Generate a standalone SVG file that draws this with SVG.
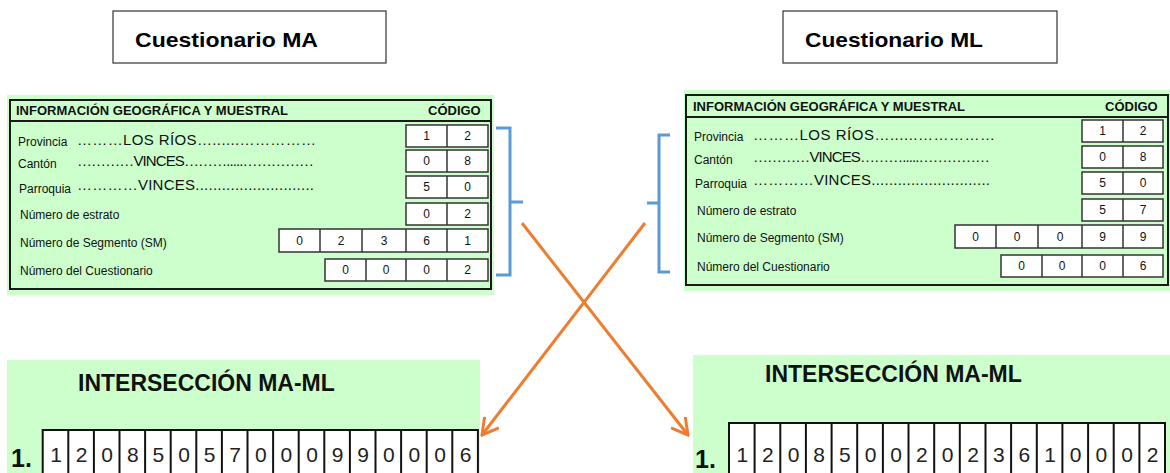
<svg xmlns="http://www.w3.org/2000/svg" width="1170" height="473" viewBox="0 0 1170 473">
<defs>
<style>
.green{fill:#CCFFCC;stroke:none}
.frame{fill:none;stroke:#1a1a1a;stroke-width:2}
.box{fill:#fff;stroke:#333;stroke-width:1.5}
.div{stroke:#333;stroke-width:1.5}
.hdr{font-family:"Liberation Sans",Arial,sans-serif;font-weight:bold;font-size:13px;fill:#111}
.lbl{font-family:"Liberation Sans",Arial,sans-serif;font-size:12px;fill:#111}
.dots{font-family:"Liberation Sans",Arial,sans-serif;font-size:15px;fill:#111}
.dg{font-family:"Liberation Sans",Arial,sans-serif;font-size:12px;fill:#111;text-anchor:middle}
.title{font-family:"Liberation Sans",Arial,sans-serif;font-weight:bold;font-size:21px;fill:#000}
.tbox{fill:#fff;stroke:#333;stroke-width:1.2}
.ititle{font-family:"Liberation Sans",Arial,sans-serif;font-weight:bold;font-size:23px;fill:#111}
.cell{fill:#fff;stroke:#111;stroke-width:2}
.cd{stroke:#111;stroke-width:2}
.bd{font-family:"Liberation Sans",Arial,sans-serif;font-size:21px;fill:#222;text-anchor:middle}
.one{font-family:"Liberation Sans",Arial,sans-serif;font-weight:bold;font-size:25px;fill:#111}
.brace{fill:none;stroke:#5B9BD5;stroke-width:3}
.arrow{fill:none;stroke:#ED7D31;stroke-width:3}
</style>
<marker id="ah" markerUnits="userSpaceOnUse" viewBox="0 0 20 20" refX="18" refY="10" markerWidth="20" markerHeight="20" orient="auto">
<path d="M2,1 L18,10 L2,19" fill="none" stroke="#ED7D31" stroke-width="3"/>
</marker>
</defs>

<g id="title-ma">
<rect class="tbox" x="113" y="11" width="273" height="52"/>
<text class="title" x="135" y="47" textLength="183" lengthAdjust="spacingAndGlyphs">Cuestionario MA</text>
</g>
<g id="title-ml">
<rect class="tbox" x="783" y="11" width="274" height="52"/>
<text class="title" x="805" y="47" textLength="178" lengthAdjust="spacingAndGlyphs">Cuestionario ML</text>
</g>

<g id="form-ma">
<rect class="green" x="7" y="95" width="487" height="200"/>
<rect class="frame" x="10" y="100" width="481" height="189"/>
<line class="frame" x1="10" y1="121" x2="491" y2="121"/>
<text class="hdr" x="16" y="115">INFORMACIÓN GEOGRÁFICA Y MUESTRAL</text>
<text class="hdr" x="428" y="115">CÓDIGO</text>
<text class="lbl" x="18" y="146">Provincia</text>
<text class="dots" x="77" y="145" textLength="239" lengthAdjust="spacing">………LOS RÍOS…......……………</text>
<text class="lbl" x="18" y="168">Cantón</text>
<text class="dots" x="77" y="166" textLength="237" lengthAdjust="spacing">…………VINCES……….....……………</text>
<text class="lbl" x="19" y="193">Parroquia</text>
<text class="dots" x="77" y="190" textLength="237" lengthAdjust="spacing">…………VINCES...........................</text>
<text class="lbl" x="20" y="219">Número de estrato</text>
<text class="lbl" x="20" y="247">Número de Segmento (SM)</text>
<text class="lbl" x="20" y="275">Número del Cuestionario</text>
<rect class="box" x="406" y="125" width="82" height="22"/><line class="div" x1="447" y1="125" x2="447" y2="147"/>
<text class="dg" x="426.5" y="140">1</text><text class="dg" x="467.5" y="140">2</text>
<rect class="box" x="406" y="150" width="82" height="22"/><line class="div" x1="447" y1="150" x2="447" y2="172"/>
<text class="dg" x="426.5" y="165">0</text><text class="dg" x="467.5" y="165">8</text>
<rect class="box" x="406" y="176" width="82" height="22"/><line class="div" x1="447" y1="176" x2="447" y2="198"/>
<text class="dg" x="426.5" y="191">5</text><text class="dg" x="467.5" y="191">0</text>
<rect class="box" x="406" y="203" width="82" height="22"/><line class="div" x1="447" y1="203" x2="447" y2="225"/>
<text class="dg" x="426.5" y="218">0</text><text class="dg" x="467.5" y="218">2</text>
<rect class="box" x="279" y="229" width="209" height="23"/>
<line class="div" x1="320" y1="229" x2="320" y2="252"/><line class="div" x1="362" y1="229" x2="362" y2="252"/><line class="div" x1="406" y1="229" x2="406" y2="252"/><line class="div" x1="447" y1="229" x2="447" y2="252"/>
<text class="dg" x="299.5" y="245">0</text><text class="dg" x="341" y="245">2</text><text class="dg" x="384" y="245">3</text><text class="dg" x="426.5" y="245">6</text><text class="dg" x="467.5" y="245">1</text>
<rect class="box" x="325" y="259" width="163" height="22"/>
<line class="div" x1="366" y1="259" x2="366" y2="281"/><line class="div" x1="406" y1="259" x2="406" y2="281"/><line class="div" x1="447" y1="259" x2="447" y2="281"/>
<text class="dg" x="345.5" y="274">0</text><text class="dg" x="386" y="274">0</text><text class="dg" x="426.5" y="274">0</text><text class="dg" x="467.5" y="274">2</text>
</g>

<g id="form-ml">
<rect class="green" x="684" y="90" width="486" height="201"/>
<rect class="frame" x="686" y="95" width="482" height="190"/>
<line class="frame" x1="686" y1="117" x2="1168" y2="117"/>
<text class="hdr" x="693" y="111">INFORMACIÓN GEOGRÁFICA Y MUESTRAL</text>
<text class="hdr" x="1105" y="111">CÓDIGO</text>
<text class="lbl" x="694" y="141">Provincia</text>
<text class="dots" x="753" y="140" textLength="242" lengthAdjust="spacing">………LOS RÍOS…......……………</text>
<text class="lbl" x="694" y="164">Cantón</text>
<text class="dots" x="753" y="162" textLength="237" lengthAdjust="spacing">…………VINCES……….....……………</text>
<text class="lbl" x="695" y="188">Parroquia</text>
<text class="dots" x="753" y="185" textLength="237" lengthAdjust="spacing">…………VINCES...........................</text>
<text class="lbl" x="697" y="215">Número de estrato</text>
<text class="lbl" x="697" y="242">Número de Segmento (SM)</text>
<text class="lbl" x="697" y="271">Número del Cuestionario</text>
<rect class="box" x="1082" y="120" width="81" height="22"/><line class="div" x1="1123" y1="120" x2="1123" y2="142"/>
<text class="dg" x="1102.5" y="135">1</text><text class="dg" x="1143" y="135">2</text>
<rect class="box" x="1082" y="146" width="81" height="22"/><line class="div" x1="1123" y1="146" x2="1123" y2="168"/>
<text class="dg" x="1102.5" y="161">0</text><text class="dg" x="1143" y="161">8</text>
<rect class="box" x="1082" y="172" width="81" height="22"/><line class="div" x1="1123" y1="172" x2="1123" y2="194"/>
<text class="dg" x="1102.5" y="187">5</text><text class="dg" x="1143" y="187">0</text>
<rect class="box" x="1082" y="199" width="81" height="22"/><line class="div" x1="1123" y1="199" x2="1123" y2="221"/>
<text class="dg" x="1102.5" y="214">5</text><text class="dg" x="1143" y="214">7</text>
<rect class="box" x="955" y="225" width="208" height="23"/>
<line class="div" x1="996" y1="225" x2="996" y2="248"/><line class="div" x1="1038" y1="225" x2="1038" y2="248"/><line class="div" x1="1082" y1="225" x2="1082" y2="248"/><line class="div" x1="1123" y1="225" x2="1123" y2="248"/>
<text class="dg" x="975.5" y="241">0</text><text class="dg" x="1017" y="241">0</text><text class="dg" x="1060" y="241">0</text><text class="dg" x="1102.5" y="241">9</text><text class="dg" x="1143" y="241">9</text>
<rect class="box" x="1001" y="255" width="162" height="22"/>
<line class="div" x1="1042" y1="255" x2="1042" y2="277"/><line class="div" x1="1082" y1="255" x2="1082" y2="277"/><line class="div" x1="1123" y1="255" x2="1123" y2="277"/>
<text class="dg" x="1021.5" y="270">0</text><text class="dg" x="1062" y="270">0</text><text class="dg" x="1102.5" y="270">0</text><text class="dg" x="1143" y="270">6</text>
</g>

<g id="intersection-left">
<rect class="green" x="7" y="360" width="473" height="113"/>
<text class="ititle" x="78" y="391">INTERSECCIÓN MA-ML</text>
<text class="one" x="11" y="467">1.</text>
<rect class="cell" x="42.7" y="430" width="435.2" height="50"/>
<g class="cd">
<line x1="68.3" y1="430" x2="68.3" y2="480"/>
<line x1="93.9" y1="430" x2="93.9" y2="480"/>
<line x1="119.5" y1="430" x2="119.5" y2="480"/>
<line x1="145.1" y1="430" x2="145.1" y2="480"/>
<line x1="170.7" y1="430" x2="170.7" y2="480"/>
<line x1="196.3" y1="430" x2="196.3" y2="480"/>
<line x1="221.9" y1="430" x2="221.9" y2="480"/>
<line x1="247.5" y1="430" x2="247.5" y2="480"/>
<line x1="273.1" y1="430" x2="273.1" y2="480"/>
<line x1="298.7" y1="430" x2="298.7" y2="480"/>
<line x1="324.3" y1="430" x2="324.3" y2="480"/>
<line x1="349.9" y1="430" x2="349.9" y2="480"/>
<line x1="375.5" y1="430" x2="375.5" y2="480"/>
<line x1="401.1" y1="430" x2="401.1" y2="480"/>
<line x1="426.7" y1="430" x2="426.7" y2="480"/>
<line x1="452.3" y1="430" x2="452.3" y2="480"/>
</g>
<text class="bd" x="56" y="462">1</text><text class="bd" x="81.6" y="462">2</text><text class="bd" x="107.2" y="462">0</text><text class="bd" x="132.8" y="462">8</text><text class="bd" x="158.4" y="462">5</text><text class="bd" x="184" y="462">0</text><text class="bd" x="209.6" y="462">5</text><text class="bd" x="235.2" y="462">7</text><text class="bd" x="260.8" y="462">0</text><text class="bd" x="286.4" y="462">0</text><text class="bd" x="312" y="462">0</text><text class="bd" x="337.6" y="462">9</text><text class="bd" x="363.2" y="462">9</text><text class="bd" x="388.8" y="462">0</text><text class="bd" x="414.4" y="462">0</text><text class="bd" x="440" y="462">0</text><text class="bd" x="465.6" y="462">6</text>
</g>

<g id="intersection-right">
<rect class="green" x="693" y="355" width="477" height="118"/>
<text class="ititle" x="765" y="382">INTERSECCIÓN MA-ML</text>
<text class="one" x="695" y="468">1.</text>
<rect class="cell" x="729" y="423" width="436" height="60"/>
<g class="cd">
<line x1="754.6" y1="423" x2="754.6" y2="480"/>
<line x1="780.3" y1="423" x2="780.3" y2="480"/>
<line x1="805.9" y1="423" x2="805.9" y2="480"/>
<line x1="831.6" y1="423" x2="831.6" y2="480"/>
<line x1="857.2" y1="423" x2="857.2" y2="480"/>
<line x1="882.9" y1="423" x2="882.9" y2="480"/>
<line x1="908.5" y1="423" x2="908.5" y2="480"/>
<line x1="934.2" y1="423" x2="934.2" y2="480"/>
<line x1="959.8" y1="423" x2="959.8" y2="480"/>
<line x1="985.5" y1="423" x2="985.5" y2="480"/>
<line x1="1011.1" y1="423" x2="1011.1" y2="480"/>
<line x1="1036.8" y1="423" x2="1036.8" y2="480"/>
<line x1="1062.4" y1="423" x2="1062.4" y2="480"/>
<line x1="1088.1" y1="423" x2="1088.1" y2="480"/>
<line x1="1113.7" y1="423" x2="1113.7" y2="480"/>
<line x1="1139.4" y1="423" x2="1139.4" y2="480"/>
</g>
<text class="bd" x="742.3" y="462">1</text><text class="bd" x="767.9" y="462">2</text><text class="bd" x="793.6" y="462">0</text><text class="bd" x="819.2" y="462">8</text><text class="bd" x="844.9" y="462">5</text><text class="bd" x="870.5" y="462">0</text><text class="bd" x="896.2" y="462">0</text><text class="bd" x="921.8" y="462">2</text><text class="bd" x="947.5" y="462">0</text><text class="bd" x="973.1" y="462">2</text><text class="bd" x="998.8" y="462">3</text><text class="bd" x="1024.4" y="462">6</text><text class="bd" x="1050.1" y="462">1</text><text class="bd" x="1075.7" y="462">0</text><text class="bd" x="1101.4" y="462">0</text><text class="bd" x="1127" y="462">0</text><text class="bd" x="1152.7" y="462">2</text>
</g>

<g id="connectors">
<path class="brace" d="M496,128 H510 V275 H496 M510,202 H523"/>
<path class="brace" d="M670,135 H659 V272 H670 M659,203 H647"/>
<line class="arrow" x1="522" y1="223" x2="688" y2="435" marker-end="url(#ah)"/>
<line class="arrow" x1="645" y1="223" x2="482" y2="435" marker-end="url(#ah)"/>
</g>
</svg>
